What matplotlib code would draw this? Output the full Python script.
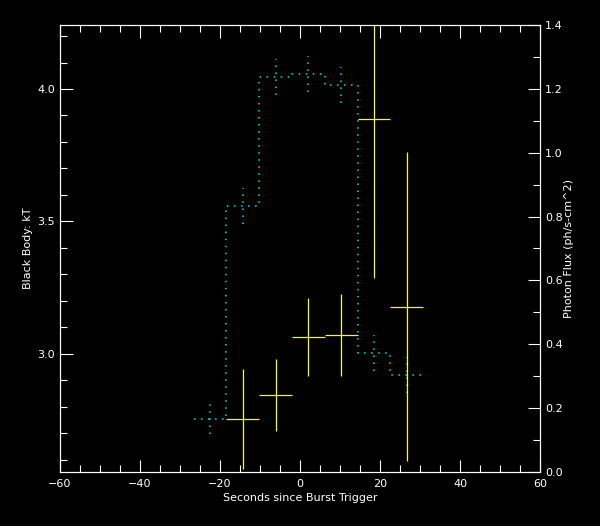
import numpy as np
import matplotlib
matplotlib.use("Agg")
from matplotlib import pyplot as plt
from matplotlib.ticker import MultipleLocator

# time bins (seconds since trigger)
edges = [-26.6, -18.4, -10.2, -2.0, 6.2, 14.4, 22.6, 30.8]
# black body temperature (left axis)
kt = [2.752, 3.557, 4.044, 4.056, 4.014, 3.003, 2.918]
kt_err = [0.057, 0.068, 0.068, 0.068, 0.068, 0.068, 0.068]
# photon flux (right axis), first bin has none
flux = [0.165, 0.241, 0.423, 0.429, 1.104, 0.517]
flux_err = [0.157, 0.114, 0.122, 0.127, 0.497, 0.484]

edges = np.array(edges)
centers = (edges[:-1] + edges[1:]) / 2
half = (edges[1:] - edges[:-1]) / 2

cyan = "#00e0e0"
dots = (0, (1.0, 3.6))

fig = plt.figure(figsize=(6, 5.26), dpi=100, facecolor="black")
ax = fig.add_axes([0.1, 0.1027, 0.8, 0.8498], facecolor="black")

ax.stairs(kt, edges, baseline=None, color=cyan, lw=1.1, linestyle=dots)
for c, v, e in zip(centers, kt, kt_err):
    ax.plot([c, c], [v - e, v + e], color=cyan, lw=1.1, linestyle=dots)

ax.set_xlim(-60, 60)
ax.set_ylim(2.553, 4.242)
ax.xaxis.set_major_locator(MultipleLocator(20))
ax.xaxis.set_minor_locator(MultipleLocator(5))
ax.yaxis.set_major_locator(MultipleLocator(0.5))
ax.yaxis.set_minor_locator(MultipleLocator(0.1))
ax.yaxis.set_major_formatter(plt.FormatStrFormatter("%.1f"))
ax.tick_params(which="both", direction="in", colors="white", labelsize=8,
               top=True, right=False, width=0.8)
ax.tick_params(which="major", length=9)
ax.tick_params(which="minor", length=5)
ax.tick_params(axis="x", pad=5)
ax.set_xlabel("Seconds since Burst Trigger", color="white", fontsize=8, labelpad=3)
ax.set_ylabel("Black Body: kT", color="white", fontsize=8, labelpad=3)

ax2 = ax.twinx()
ax2.errorbar(centers[1:], flux, xerr=half[1:], yerr=flux_err, fmt="none",
             ecolor="yellow", elinewidth=0.9, capsize=0)
ax2.set_ylim(0, 1.4)
ax2.yaxis.set_major_locator(MultipleLocator(0.2))
ax2.yaxis.set_minor_locator(MultipleLocator(0.1))
ax2.yaxis.set_major_formatter(plt.FormatStrFormatter("%.1f"))
ax2.tick_params(which="both", direction="in", colors="white", labelsize=8, width=0.8)
ax2.tick_params(which="major", length=9)
ax2.tick_params(which="minor", length=5)
ax2.set_ylabel("Photon Flux (ph/s-cm^2)", color="white", fontsize=8, labelpad=1)

for a in (ax, ax2):
    for s in a.spines.values():
        s.set_color("white")
        s.set_linewidth(0.8)

fig.savefig("out.png", dpi=100, facecolor="black")
